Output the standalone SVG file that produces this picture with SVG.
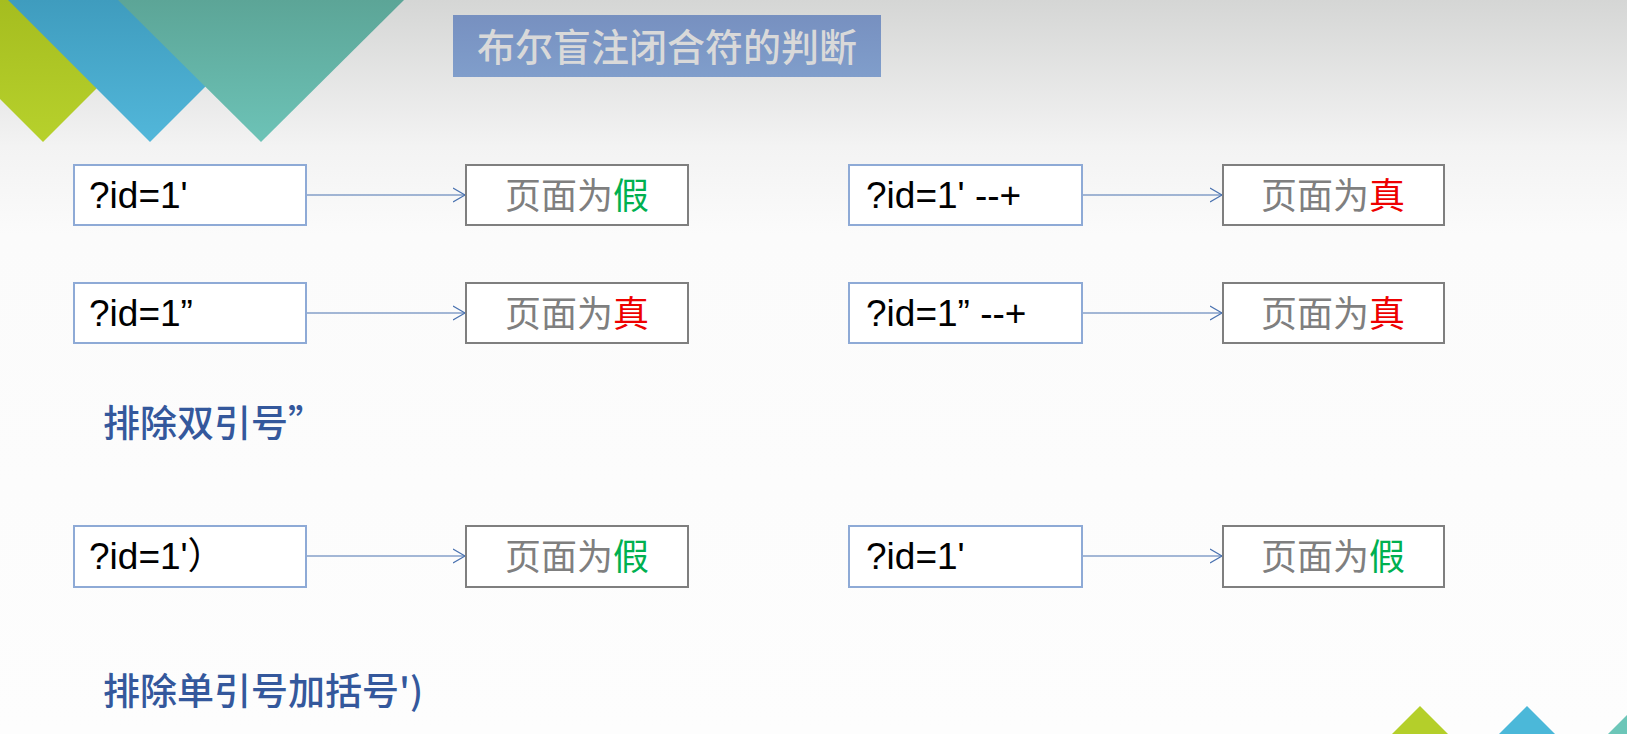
<svg xmlns="http://www.w3.org/2000/svg" width="1627" height="734" viewBox="0 0 1627 734">
<defs>
<linearGradient id="bg" x1="0" y1="0" x2="0" y2="734" gradientUnits="userSpaceOnUse">
<stop offset="0" stop-color="#d5d6d5"/>
<stop offset="0.2" stop-color="#f3f3f3"/>
<stop offset="0.32" stop-color="#fbfbfb"/>
<stop offset="1" stop-color="#fdfdfd"/>
</linearGradient>
<linearGradient id="gG" x1="0" y1="0" x2="0" y2="1"><stop offset="0" stop-color="#a5bd1f"/><stop offset="1" stop-color="#b7d12c"/></linearGradient>
<linearGradient id="gB" x1="0" y1="0" x2="0" y2="1"><stop offset="0" stop-color="#3f9cbe"/><stop offset="1" stop-color="#52b7da"/></linearGradient>
<linearGradient id="gT" x1="0" y1="0" x2="0" y2="1"><stop offset="0" stop-color="#5ca597"/><stop offset="1" stop-color="#6dc3b7"/></linearGradient>
<linearGradient id="gTitle" x1="0" y1="0" x2="0" y2="1"><stop offset="0" stop-color="#7790c0"/><stop offset="1" stop-color="#809ecb"/></linearGradient>
<marker id="arr" markerWidth="14" markerHeight="16" refX="12" refY="8" orient="auto" markerUnits="userSpaceOnUse">
<path d="M0,1 L12,8 L0,15" fill="none" stroke="#4a72b0" stroke-width="1.2"/>
</marker>
<style>
.inbox{fill:#ffffff;stroke:#8eaad6;stroke-width:2}
.outbox{fill:#ffffff;stroke:#7f7f7f;stroke-width:2}
.code{font-family:"Liberation Sans","Noto Sans CJK SC",sans-serif;font-size:37px;fill:#000000}
.res{font-family:"Noto Sans CJK SC",sans-serif;font-size:36px;fill:#7f7f7f;text-anchor:middle}
.red{fill:#ee0000}
.grn{fill:#00b050}
.note{font-family:"Noto Sans CJK SC",sans-serif;font-size:37px;font-weight:500;fill:#34589c}
.title{font-family:"Noto Sans CJK SC",sans-serif;font-size:38px;font-weight:500;fill:#d9d9d9;text-anchor:middle}
.conn{stroke:#4a72b0;stroke-width:1.2;fill:none;marker-end:url(#arr)}
</style>
</defs>
<rect x="0" y="0" width="1627" height="734" fill="url(#bg)"/>
<g id="decor-top">
<polygon points="-99,0 185,0 43,142" fill="url(#gG)"/>
<polygon points="8,0 292,0 150,142" fill="url(#gB)"/>
<polygon points="118,0 404,0 261,142" fill="url(#gT)"/>
</g>
<g id="decor-bottom">
<polygon points="1420,706 1454,740 1386,740" fill="#b4cf2a"/>
<polygon points="1527,706 1561,740 1493,740" fill="#4bb8d9"/>
<polygon points="1636,706 1670,740 1602,740" fill="#6cc6b8"/>
</g>
<g id="title">
<rect x="453" y="15" width="428" height="62" fill="url(#gTitle)"/>
<text class="title" x="667" y="61">布尔盲注闭合符的判断</text>
</g>
<g id="connectors">
<line class="conn" x1="306" y1="195" x2="465" y2="195"/>
<line class="conn" x1="306" y1="313" x2="465" y2="313"/>
<line class="conn" x1="306" y1="556" x2="465" y2="556"/>
<line class="conn" x1="1082" y1="195" x2="1222" y2="195"/>
<line class="conn" x1="1082" y1="313" x2="1222" y2="313"/>
<line class="conn" x1="1082" y1="556" x2="1222" y2="556"/>
</g>
<g id="n1"><rect class="inbox" x="74" y="165" width="232" height="60"/><text class="code" x="89" y="208">?id=1'</text></g>
<g id="n2"><rect class="outbox" x="466" y="165" width="222" height="60"/><text class="res" x="577" y="209">页面为<tspan class="grn">假</tspan></text></g>
<g id="n3"><rect class="inbox" x="74" y="283" width="232" height="60"/><text class="code" x="89" y="326">?id=1”</text></g>
<g id="n4"><rect class="outbox" x="466" y="283" width="222" height="60"/><text class="res" x="577" y="327">页面为<tspan class="red">真</tspan></text></g>
<g id="n5"><rect class="inbox" x="849" y="165" width="233" height="60"/><text class="code" x="866" y="208">?id=1' --+</text></g>
<g id="n6"><rect class="outbox" x="1223" y="165" width="221" height="60"/><text class="res" x="1333" y="209">页面为<tspan class="red">真</tspan></text></g>
<g id="n7"><rect class="inbox" x="849" y="283" width="233" height="60"/><text class="code" x="866" y="326">?id=1” --+</text></g>
<g id="n8"><rect class="outbox" x="1223" y="283" width="221" height="60"/><text class="res" x="1333" y="327">页面为<tspan class="red">真</tspan></text></g>
<g id="n9"><rect class="inbox" x="74" y="526" width="232" height="61"/><text class="code" x="89" y="569">?id=1'）</text></g>
<g id="n10"><rect class="outbox" x="466" y="526" width="222" height="61"/><text class="res" x="577" y="570">页面为<tspan class="grn">假</tspan></text></g>
<g id="n11"><rect class="inbox" x="849" y="526" width="233" height="61"/><text class="code" x="866" y="569">?id=1'</text></g>
<g id="n12"><rect class="outbox" x="1223" y="526" width="221" height="61"/><text class="res" x="1333" y="570">页面为<tspan class="grn">假</tspan></text></g>
<g id="label1"><text class="note" x="103" y="437">排除双引号”</text></g>
<g id="label2"><text class="note" x="103" y="705">排除单引号加括号')</text></g>
</svg>
